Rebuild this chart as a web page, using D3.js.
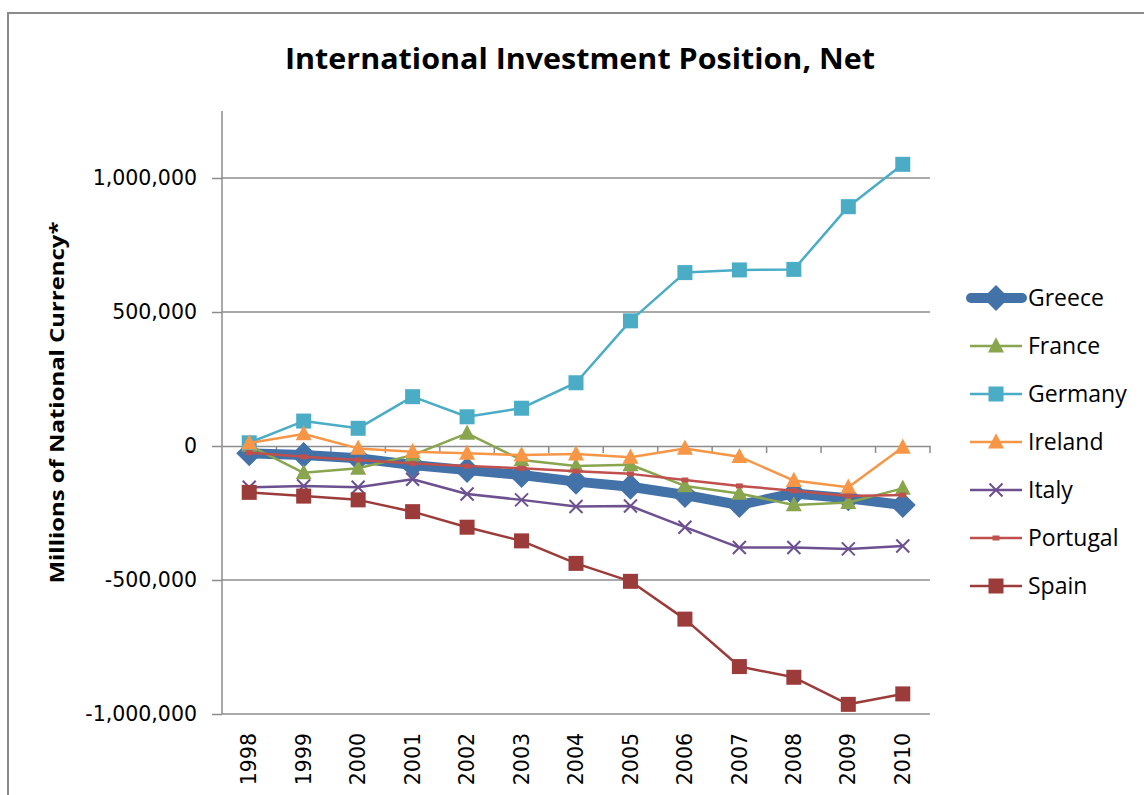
<!DOCTYPE html>
<html><head><meta charset="utf-8">
<script src="https://cdn.jsdelivr.net/npm/d3@7"></script>
<style>body{margin:0;background:#fff}svg{display:block}</style>
</head><body>
<svg id="c" width="1144" height="795"></svg>
<script>
const years = ["1998","1999","2000","2001","2002","2003","2004","2005","2006","2007","2008","2009","2010"];
const greece   = [-27000,-34000,-46000,-71000,-90000,-108000,-133000,-152000,-183000,-220000,-177000,-195000,-220000];
const france   = [2000,-100000,-83000,-34000,47000,-52000,-75000,-70000,-149000,-177000,-220000,-211000,-158000];
const germany  = [12000,93000,66000,184000,109000,141000,236000,467000,647000,657000,659000,893000,1051000];
const ireland  = [11000,45000,-9000,-21000,-27000,-34000,-30000,-42000,-9000,-40000,-129000,-154000,-5000];
const italy    = [-154000,-149000,-154000,-124000,-179000,-201000,-226000,-224000,-303000,-379000,-379000,-384000,-373000];
const portugal = [-25000,-40000,-52000,-65000,-75000,-83000,-94000,-104000,-127000,-149000,-167000,-187000,-183000];
const spain    = [-173000,-187000,-201000,-245000,-303000,-354000,-438000,-505000,-646000,-823000,-863000,-964000,-925000];
const yTicks = [-1000000,-500000,0,500000,1000000];
const seriesNames = ["Greece","France","Germany","Ireland","Italy","Portugal","Spain"];

const series = [
  {name:"Greece",  values:greece,  color:"#4272A8", width:10, marker:"diamond", size:26},
  {name:"France",  values:france,  color:"#89A54E", width:2.5, marker:"triangle", size:16},
  {name:"Germany", values:germany, color:"#4BACC6", width:2.5, marker:"square", size:15},
  {name:"Ireland", values:ireland, color:"#F79646", width:2.5, marker:"triangle", size:16},
  {name:"Italy",   values:italy,   color:"#6C5090", width:2.5, marker:"x", size:13},
  {name:"Portugal",values:portugal,color:"#C0504D", width:2.5, marker:"small", size:7},
  {name:"Spain",   values:spain,   color:"#9C3C3A", width:2.5, marker:"square", size:15}
];

const svg = d3.select("#c");
const L = 222, R = 930, T = 111, B = 714;
const x = d3.scaleBand().domain(years).range([L, R]).paddingInner(0).paddingOuter(0);
const y = d3.scaleLinear().domain([-1000000, 1250000]).range([B, T]);
const fmt = d => d3.format(",")(d).replace("\u2212", "-");
const grid = "#8c8c8c";

// frame
svg.append("path").attr("d", `M8,795 L8,13 L1144,13`).attr("fill","none").attr("stroke","#8a8a8a").attr("stroke-width",2);

// title
svg.append("text").attr("x", 580).attr("y", 69).attr("text-anchor","middle")
  .attr("font-family","Open Sans").attr("font-weight","bold").attr("font-size",28)
  .attr("textLength",590).attr("lengthAdjust","spacingAndGlyphs")
  .text("International Investment Position, Net");

// gridlines
svg.append("g").selectAll("line").data(yTicks.filter(d=>d!==0)).join("line")
  .attr("x1",L).attr("x2",R).attr("y1",d=>y(d)).attr("y2",d=>y(d))
  .attr("stroke",grid).attr("stroke-width",1.5);

// y axis
const yAxis = d3.axisLeft(y).tickValues(yTicks).tickFormat(fmt).tickSize(10).tickPadding(15);
const gy = svg.append("g").attr("transform",`translate(${L},0)`).call(yAxis);
gy.select(".domain").remove();
gy.selectAll(".tick line").attr("stroke",grid).attr("stroke-width",1.5);
gy.selectAll(".tick text").attr("font-family","DejaVu Sans").attr("font-size",20.5).attr("fill","#000");
svg.append("line").attr("x1",L).attr("x2",L).attr("y1",T).attr("y2",B).attr("stroke",grid).attr("stroke-width",1.5);

// x axis at 0
const xAxis = d3.axisBottom(x).tickSize(0).tickFormat("");
const gx = svg.append("g").attr("transform",`translate(0,${y(0)})`).call(xAxis);
gx.select(".domain").attr("stroke",grid).attr("stroke-width",1.5);
svg.append("g").selectAll("line").data(years).join("line")
  .attr("x1",d=>x(d)+x.bandwidth()).attr("x2",d=>x(d)+x.bandwidth())
  .attr("y1",y(0)).attr("y2",y(0)+7).attr("stroke",grid).attr("stroke-width",1.5);

// x labels at bottom
svg.append("g").selectAll("text").data(years).join("text")
  .attr("transform",d=>`translate(${x(d)+x.bandwidth()/2},${B+19}) rotate(-90)`)
  .attr("text-anchor","end").attr("dy","0.35em")
  .attr("font-family","DejaVu Sans").attr("font-size",20.5).attr("fill","#000")
  .text(d=>d);

// y title
svg.append("text").attr("transform",`translate(64,${(T+B)/2 - 10}) rotate(-90)`)
  .attr("text-anchor","middle").attr("font-family","Open Sans").attr("font-weight","bold")
  .attr("font-size",20).attr("textLength",362).attr("lengthAdjust","spacingAndGlyphs")
  .text("Millions of National Currency*");

function drawMarker(g, s, cx, cy) {
  const k = s.size;
  if (s.marker === "diamond") {
    g.append("path").attr("d",`M${cx},${cy-k/2}L${cx+k/2},${cy}L${cx},${cy+k/2}L${cx-k/2},${cy}Z`).attr("fill",s.color);
  } else if (s.marker === "triangle") {
    g.append("path").attr("d",`M${cx},${cy-k*0.55}L${cx+k/2},${cy+k*0.4}L${cx-k/2},${cy+k*0.4}Z`).attr("fill",s.color);
  } else if (s.marker === "square") {
    g.append("rect").attr("x",cx-k/2).attr("y",cy-k/2).attr("width",k).attr("height",k).attr("fill",s.color);
  } else if (s.marker === "x") {
    g.append("path").attr("d",`M${cx-k/2},${cy-k/2}L${cx+k/2},${cy+k/2}M${cx-k/2},${cy+k/2}L${cx+k/2},${cy-k/2}`)
      .attr("stroke",s.color).attr("stroke-width",2);
  } else if (s.marker === "small") {
    g.append("rect").attr("x",cx-k/2).attr("y",cy-2.5).attr("width",k).attr("height",5).attr("fill",s.color);
  }
}

const line = d3.line().x((d,i)=>x(years[i])+x.bandwidth()/2).y(d=>y(d));
series.forEach(s => {
  const g = svg.append("g");
  g.append("path").attr("d",line(s.values)).attr("fill","none").attr("stroke",s.color)
    .attr("stroke-width",s.width).attr("stroke-linejoin","round");
  s.values.forEach((v,i)=>drawMarker(g, s, x(years[i])+x.bandwidth()/2, y(v)));
});

// legend
const leg = svg.append("g");
series.forEach((s,i) => {
  const cy = 298 + i*48;
  const g = leg.append("g");
  if (s.name === "Greece") {
    g.append("line").attr("x1",971).attr("x2",1022).attr("y1",cy).attr("y2",cy)
      .attr("stroke",s.color).attr("stroke-width",10).attr("stroke-linecap","round");
  } else {
    g.append("line").attr("x1",970).attr("x2",1022).attr("y1",cy).attr("y2",cy)
      .attr("stroke",s.color).attr("stroke-width",2.5);
  }
  drawMarker(g, s, 996, cy);
  g.append("text").attr("x",1028).attr("y",cy).attr("dy","0.36em")
    .attr("font-family","Open Sans").attr("font-size",23).attr("fill","#000").text(seriesNames[i]);
});
</script>
</body></html>
